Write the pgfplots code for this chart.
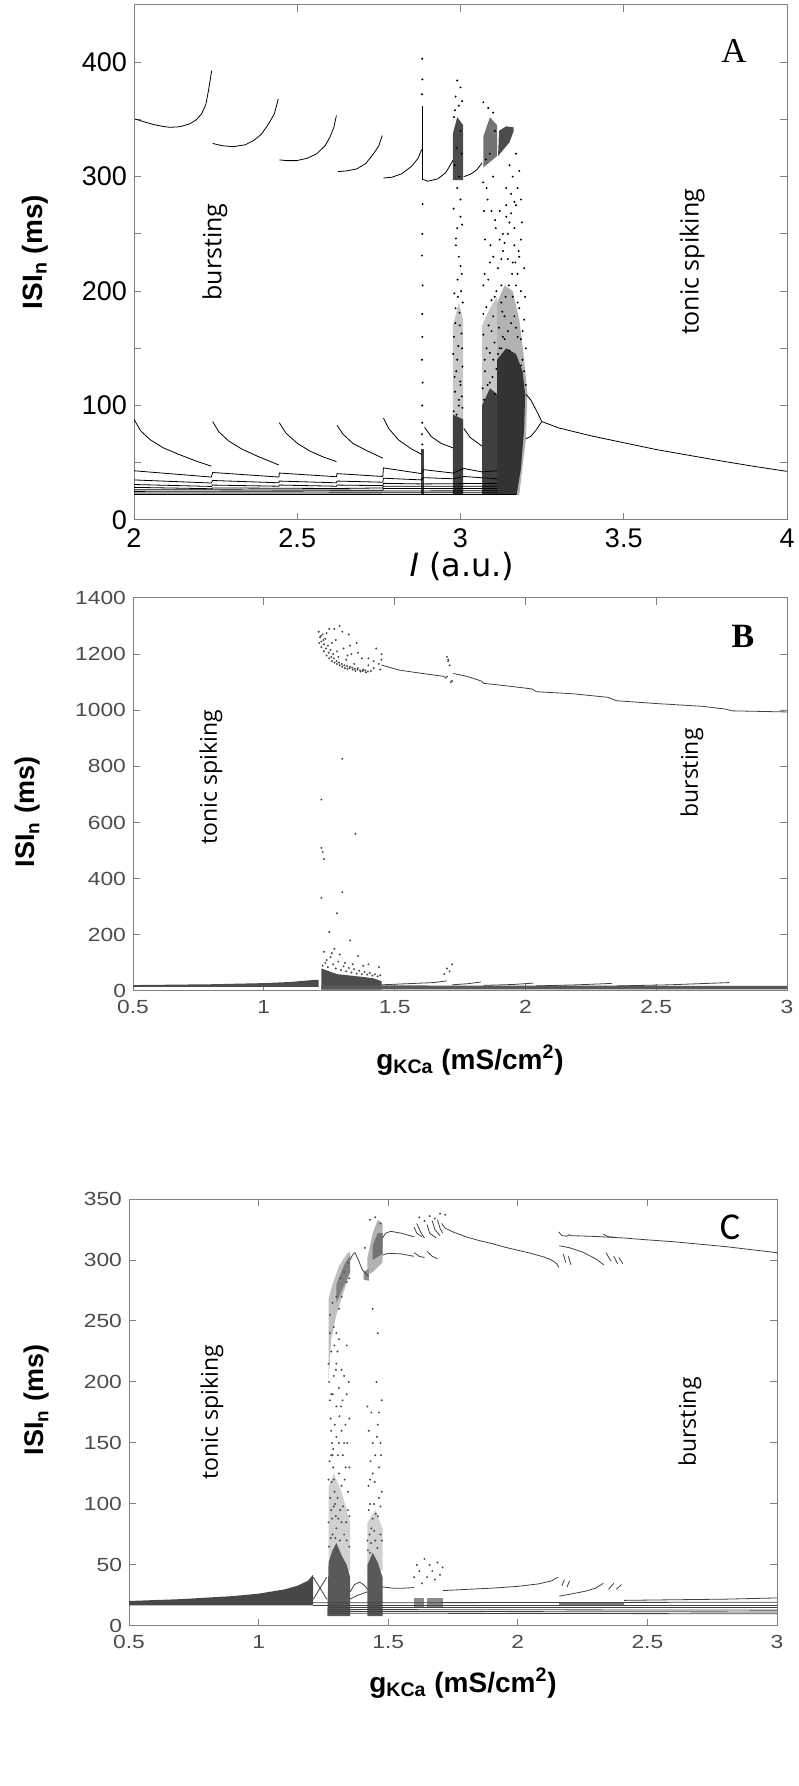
\documentclass[border=0pt]{standalone}
\usepackage{pgfplots}
\pgfplotsset{compat=1.18}
\usepackage{fontspec}
\setmainfont{Liberation Sans}
\newfontfamily\osfont{Open Sans}
\newfontfamily\dvfont{DejaVu Sans}
\newfontfamily\serfont{Liberation Serif}
\newfontfamily\calfont{Carlito}
\newfontfamily\tickfont[FakeStretch=1.2]{Liberation Sans}

\pgfplotsset{
  panel/.style={scale only axis, anchor=south west,
    axis line style={black!50, line width=0.5pt},
    tick style={black!50, line width=0.5pt},
    major tick length=3.5pt, minor tick length=3.5pt, tick align=inside,
    /pgf/number format/assume math mode=true,
    /pgf/number format/1000 sep={},
    xticklabel style={yshift=-1pt}},
  curve/.style={line width=0.4pt},
  dot/.style={only marks, mark=*, mark size=0.27pt},
  cloud/.style={fill=#1, draw=none},
}

\begin{document}
\begin{tikzpicture}[x=1pt,y=1pt]
\useasboundingbox (0,0) rectangle (399,893);

% ---------------- panel A ----------------
\begin{axis}[panel, at={(67pt,633pt)}, width=326.5pt, height=257.5pt,
  xmin=2, xmax=4, ymin=0, ymax=450,
  xtick={2,2.5,...,4}, ytick={0,100,...,400}, minor ytick={50,150,...,450},
  ticklabel style={font=\fontsize{13.5}{13.5}\selectfont, black}]
% medium density
\addplot[cloud=black!22] coordinates {(2.977,60) (3.008,60) (3.008,175) (2.995,190) (2.977,170)} -- cycle;
\addplot[cloud=black!22] coordinates {(3.066,60) (3.112,60) (3.112,195) (3.09,185) (3.066,170)} -- cycle;
\addplot[cloud=black!30] coordinates {(3.112,22) (3.18,22) (3.2,70) (3.205,110) (3.195,140) (3.18,175) (3.16,200) (3.135,205) (3.112,190)} -- cycle;
% dense
\addplot[cloud=black!80] coordinates {(3.112,22) (3.172,22) (3.185,45) (3.195,80) (3.198,110) (3.19,130) (3.17,145) (3.14,150) (3.112,140)} -- cycle;
\addplot[cloud=black!75] coordinates {(3.066,22) (3.112,22) (3.112,110) (3.09,115) (3.066,100)} -- cycle;
\addplot[cloud=black!75] coordinates {(2.977,22) (3.008,22) (3.008,88) (2.977,92)} -- cycle;
\addplot[cloud=black!75] coordinates {(2.880,22) (2.887,22) (2.887,62) (2.880,62)} -- cycle;
\addplot[cloud=black!70] coordinates {(2.977,297) (3.008,297) (3.008,345) (2.99,352) (2.977,338)} -- cycle;
\addplot[cloud=black!55] coordinates {(3.07,308) (3.112,318) (3.112,345) (3.09,352) (3.07,335)} -- cycle;
\addplot[cloud=black!70] coordinates {(3.115,318) (3.15,330) (3.163,340) (3.163,343) (3.14,344) (3.118,340)} -- cycle;
\addplot[black, line width=0.8pt] coordinates {(2.883,297) (2.883,362)};
% long-ISI branch
\addplot[curve] coordinates {(2.003,350.4) (2.03,348) (2.06,345.5) (2.09,343.8) (2.11,343.1) (2.14,343.6) (2.17,346) (2.19,349.5) (2.207,354.8) (2.22,363) (2.228,375) (2.238,392.7)};
\addplot[curve] coordinates {(2.241,329) (2.27,327) (2.304,326.2) (2.34,327.8) (2.366,331.5) (2.39,337) (2.412,346) (2.43,355) (2.442,368)};
\addplot[curve] coordinates {(2.445,314.6) (2.47,314) (2.498,314) (2.53,316) (2.56,320) (2.585,327) (2.60,334.4) (2.612,343) (2.62,353.4)};
\addplot[curve] coordinates {(2.625,304.4) (2.65,305) (2.682,306.7) (2.71,311.5) (2.733,319.8) (2.75,327) (2.76,335.9)};
\addplot[curve] coordinates {(2.764,298.8) (2.79,299.5) (2.82,302.5) (2.85,309) (2.87,316) (2.881,323.7)};
\addplot[curve] coordinates {(2.886,297.5) (2.90,296) (2.93,298) (2.955,303.5) (2.977,314.2)};
\addplot[curve] coordinates {(3.01,300) (3.03,302) (3.05,306) (3.066,312)};
% short-ISI branches
\addplot[curve] coordinates {(2.0,88) (2.02,78) (2.05,70) (2.09,63) (2.14,57) (2.19,51.5) (2.237,47)};
\addplot[curve] coordinates {(2.241,86) (2.26,77) (2.29,69) (2.33,62) (2.38,55.5) (2.444,48)};
\addplot[curve] coordinates {(2.445,85) (2.465,76) (2.5,67) (2.54,60) (2.58,55) (2.62,51)};
\addplot[curve] coordinates {(2.622,82.7) (2.64,75) (2.67,67) (2.71,61) (2.762,54)};
\addplot[curve] coordinates {(2.764,89) (2.78,80) (2.81,70) (2.85,62) (2.881,57.3)};
\addplot[curve] coordinates {(2.89,81) (2.91,73) (2.94,67) (2.977,63)};
\addplot[curve] coordinates {(3.01,80) (3.03,72) (3.066,64.5)};
\addplot[curve] coordinates {(2.0,43) (2.237,37.5) (2.241,41.5) (2.444,37.5) (2.445,41) (2.62,37.8) (2.622,40.5) (2.762,38) (2.764,45.5) (2.881,40.5) (2.886,44) (2.977,41) (3.01,45) (3.066,42) (3.112,43)};
\addplot[curve] coordinates {(2.0,35) (2.237,32.3) (2.241,34.5) (2.444,32.5) (2.445,34) (2.62,32.5) (2.622,34) (2.762,33) (2.764,36.5) (2.881,35) (2.886,37) (2.977,36) (3.01,38) (3.112,36)};
\addplot[curve] coordinates {(2.0,31) (2.237,29.3) (2.241,30.5) (2.444,29.5) (2.445,30.5) (2.62,29.5) (2.622,30.5) (2.762,30) (2.764,32) (2.881,31.5) (3.112,32)};
\addplot[curve] coordinates {(2.0,28.5) (2.237,27.3) (2.241,28) (2.62,27.5) (2.762,28) (2.764,29.5) (3.112,29.5)};
\addplot[curve] coordinates {(2.0,26.5) (2.762,26) (2.764,27.5) (3.112,27.5)};
\addplot[curve] coordinates {(2.0,25) (3.112,25.5)};
\addplot[curve] coordinates {(2.0,23.5) (3.112,23.8)};
\addplot[curve] coordinates {(2.0,22.3) (3.17,22.3)};
% period doubling and tonic spiking
\addplot[curve] coordinates {(3.2,110) (3.215,105) (3.23,97) (3.249,86)};
\addplot[curve] coordinates {(3.2,71) (3.215,73) (3.23,78) (3.249,86)};
\addplot[curve] coordinates {(3.249,86) (3.3,80.5) (3.4,73.5) (3.5,67.5) (3.6,61.5) (3.7,56.5) (3.8,51.5) (3.9,46.8) (4.0,42.5)};
% sparse points
\addplot[dot, black] coordinates {
(2.883,403) (2.883,385) (2.882,372) (2.884,276) (2.883,250) (2.882,231) (2.884,205) (2.883,180) (2.883,160) (2.882,140) (2.884,120) (2.883,100) (2.883,85) (2.882,75) (2.883,66)
(2.985,370) (2.995,362) (3.0,378) (2.99,384) (3.005,366) (2.98,352) (3.0,280) (2.99,255) (2.995,230) (3.002,200) (2.985,185) (2.998,170) (3.005,150) (2.99,140) (2.982,125) (3.0,118) (2.995,105) (3.006,98) (2.988,92)
(2.98,160) (2.992,195) (3.004,215) (2.986,240) (3.0,265) (2.99,290) (2.982,310) (3.004,320)
(2.979,95) (2.995,100) (3.004,108) (2.983,112) (2.999,121) (2.987,130) (3.006,134) (2.978,145) (2.993,152) (3.003,163) (2.984,172) (2.997,181) (3.007,190) (2.981,198) (2.991,210) (3.0,222) (2.986,246) (3.005,258) (2.979,272) (2.996,300) (2.988,325) (3.0,340) (2.983,358)
(3.07,365) (3.085,360) (3.1,356) (3.08,290) (3.095,270) (3.075,245) (3.1,230) (3.085,210) (3.105,195) (3.07,180) (3.095,165) (3.08,150) (3.1,140) (3.075,130) (3.09,120) (3.105,110) (3.072,105)
(3.07,205) (3.09,225) (3.108,255) (3.072,270) (3.1,300) (3.078,315)
(3.068,115) (3.083,118) (3.098,125) (3.11,132) (3.074,140) (3.09,146) (3.104,155) (3.07,162) (3.086,170) (3.1,178) (3.079,186) (3.095,192) (3.11,200) (3.074,215) (3.092,240) (3.106,262) (3.083,280) (3.069,295) (3.09,320) (3.105,340)
(3.16,300) (3.14,290) (3.17,275) (3.15,260) (3.13,250) (3.165,240) (3.145,228) (3.175,215) (3.125,205) (3.16,195) (3.18,185) (3.135,178) (3.17,168) (3.185,158) (3.15,148) (3.19,140) (3.13,235) (3.155,285) (3.17,320) (3.18,305)
(3.195,130) (3.2,118) (3.185,135) (3.175,160) (3.125,190) (3.13,160) (3.12,150) (3.12,270) (3.14,265) (3.185,245) (3.195,220) (3.15,310) (3.165,255) (3.18,230)
(3.115,145) (3.125,150) (3.135,158) (3.145,165) (3.155,172) (3.165,178) (3.175,190) (3.185,200) (3.195,175) (3.19,165) (3.118,168) (3.128,182) (3.138,195) (3.148,205) (3.158,215) (3.168,225) (3.178,235) (3.188,260) (3.115,220) (3.125,228) (3.135,242) (3.145,250) (3.155,268) (3.165,278) (3.175,290) (3.185,280) (3.12,245) (3.14,275) (3.16,225) (3.17,205) (3.2,150) (3.198,195)};
\end{axis}
\node[rotate=90, font=\fontsize{14}{14}\selectfont\bfseries] at (17.5,767) {ISI\textsubscript{n} (ms)};
\node[font=\fontsize{16}{16}\selectfont\dvfont] at (231,610) {\textit{I} (a.u.)};
\node[font=\fontsize{17.5}{17.5}\selectfont\serfont] at (367,867.5) {A};
\node[rotate=90, font=\fontsize{12.5}{12.5}\selectfont\osfont] at (107.5,767) {bursting};
\node[rotate=90, font=\fontsize{12.5}{12.5}\selectfont\osfont] at (346,762) {tonic spiking};

% ---------------- panel B ----------------
\begin{axis}[panel, at={(66.5pt,397.5pt)}, width=327pt, height=196.5pt,
  xmin=0.5, xmax=3, ymin=0, ymax=1400,
  xtick={0.5,1,...,3}, ytick={0,200,...,1400},
  ticklabel style={font=\fontsize{9.5}{9.5}\selectfont\tickfont, black!70}]
\addplot[cloud=black!70] coordinates {(0.5,15) (0.5,21) (0.8,24) (1.0,28) (1.1,32) (1.2,40) (1.21,38) (1.21,15)} -- cycle;
\addplot[cloud=black!70] coordinates {(1.22,5) (1.45,5) (1.45,35) (1.42,45) (1.38,50) (1.33,55) (1.28,60) (1.25,70) (1.22,80)} -- cycle;
\addplot[cloud=black!65] coordinates {(1.22,6) (3.0,6) (3.0,18) (1.22,20)} -- cycle;
\addplot[curve, black!75] coordinates {(1.45,1161) (1.518,1143) (1.615,1130) (1.687,1121) (1.698,1113)};
\addplot[curve, black!75] coordinates {(1.724,1131) (1.776,1121) (1.832,1104) (1.84,1096) (1.937,1086) (2.025,1076) (2.042,1066) (2.179,1059) (2.316,1046) (2.348,1034) (2.5,1024) (2.678,1014) (2.766,1004) (2.79,998) (3.0,994)};
\addplot[curve, black!75] coordinates {(1.45,22) (1.55,26) (1.65,30) (1.70,36)};
\addplot[curve, black!75] coordinates {(1.72,22) (1.78,26) (1.83,32)};
\addplot[curve, black!75] coordinates {(1.84,20) (1.95,23) (2.03,28)};
\addplot[curve, black!75] coordinates {(2.04,18) (2.2,22) (2.33,27)};
\addplot[curve, black!75] coordinates {(2.35,18) (2.55,22) (2.78,30)};
\addplot[dot, black!70] coordinates {
(1.21,1280) (1.215,1260) (1.22,1245) (1.22,1225) (1.225,1270) (1.23,1235) (1.23,1210) (1.235,1255) (1.24,1195) (1.245,1230) (1.25,1185) (1.25,1290) (1.255,1215) (1.26,1175) (1.265,1200) (1.27,1170) (1.275,1250) (1.28,1165) (1.285,1190) (1.29,1160) (1.29,1300) (1.30,1155) (1.305,1220) (1.31,1150) (1.315,1180) (1.32,1148) (1.325,1270) (1.33,1155) (1.335,1200) (1.34,1145) (1.345,1165) (1.35,1140) (1.355,1240) (1.36,1150) (1.37,1138) (1.375,1185) (1.38,1145) (1.39,1135) (1.40,1160) (1.41,1140) (1.42,1150) (1.43,1220) (1.44,1165) (1.445,1145) (1.45,1200) (1.45,1180) (1.27,1290) (1.30,1280) (1.33,1230)
(1.212,1240) (1.218,1265) (1.228,1250) (1.238,1220) (1.248,1205) (1.258,1190) (1.268,1185) (1.278,1175) (1.288,1170) (1.298,1165) (1.308,1160) (1.318,1158) (1.328,1150) (1.338,1152) (1.348,1148) (1.358,1145) (1.368,1142) (1.378,1140) (1.388,1142) (1.398,1138) (1.24,1275) (1.26,1240) (1.28,1210) (1.32,1195) (1.36,1205) (1.40,1185) (1.42,1175)
(1.70,1190) (1.705,1175) (1.71,1160) (1.715,1100) (1.72,1105) (1.70,1120) (1.705,1180)
(1.30,827) (1.22,682) (1.35,560) (1.22,510) (1.225,495) (1.23,470) (1.30,352) (1.22,332) (1.28,277) (1.25,210) (1.33,180) (1.27,150) (1.36,125) (1.24,110) (1.31,100) (1.40,95) (1.44,85) (1.26,135) (1.38,90) (1.70,80) (1.71,70) (1.69,60) (1.72,95)
(1.225,90) (1.235,100) (1.245,85) (1.255,120) (1.265,95) (1.275,80) (1.285,105) (1.295,75) (1.305,88) (1.315,70) (1.325,82) (1.335,66) (1.345,78) (1.355,62) (1.365,72) (1.375,60) (1.385,68) (1.395,58) (1.405,64) (1.415,55) (1.425,60) (1.435,52) (1.445,56) (1.23,140) (1.29,130) (1.34,95)};
\end{axis}
\node[rotate=90, font=\fontsize{13.5}{13.5}\selectfont\bfseries] at (14,487) {ISI\textsubscript{n} (ms)};
\node[font=\fontsize{14}{14}\selectfont\bfseries] at (235,363) {g\textsubscript{KCa} (mS/cm\textsuperscript{2})};
\node[font=\fontsize{17}{17}\selectfont\serfont\bfseries] at (371.5,575) {B};
\node[rotate=90, font=\fontsize{11.5}{11.5}\selectfont\osfont] at (105.5,504.5) {tonic spiking};
\node[rotate=90, font=\fontsize{11.5}{11.5}\selectfont\osfont] at (346,506.5) {bursting};

% ---------------- panel C ----------------
\begin{axis}[panel, at={(64.5pt,80pt)}, width=324pt, height=213.5pt,
  xmin=0.5, xmax=3, ymin=0, ymax=350,
  xtick={0.5,1,...,3}, ytick={0,50,...,350},
  ticklabel style={font=\fontsize{9.5}{9.5}\selectfont\tickfont, black!70}]
\addplot[cloud=black!72] coordinates {(0.5,17) (0.5,20.5) (0.7,22) (0.9,24.5) (1.0,26.5) (1.1,30) (1.15,33) (1.19,37) (1.21,42) (1.21,17)} -- cycle;
\addplot[cloud=black!18] coordinates {(1.27,50) (1.353,45) (1.353,85) (1.32,110) (1.29,125) (1.27,115)} -- cycle;
\addplot[cloud=black!18] coordinates {(1.42,50) (1.478,45) (1.478,80) (1.45,95) (1.42,85)} -- cycle;
\addplot[cloud=black!65] coordinates {(1.265,8) (1.353,8) (1.353,40) (1.34,50) (1.32,58) (1.30,68) (1.285,62) (1.27,52)} -- cycle;
\addplot[cloud=black!65] coordinates {(1.42,8) (1.478,8) (1.478,40) (1.46,52) (1.44,60) (1.42,50)} -- cycle;
\addplot[cloud=black!45] coordinates {(1.60,15) (1.64,15) (1.64,23) (1.60,23)} -- cycle;
\addplot[cloud=black!45] coordinates {(1.65,15) (1.71,15) (1.71,23) (1.65,23)} -- cycle;
\addplot[cloud=black!50] coordinates {(2.16,16) (2.41,16) (2.41,20) (2.16,20)} -- cycle;
\addplot[cloud=black!25] coordinates {(1.27,200) (1.28,235) (1.30,255) (1.33,275) (1.353,290) (1.353,307) (1.34,305) (1.31,295) (1.285,280) (1.27,268)} -- cycle;
\addplot[cloud=black!50] coordinates {(1.30,265) (1.353,290) (1.353,304) (1.33,296) (1.30,280)} -- cycle;
\addplot[cloud=black!30] coordinates {(1.42,288) (1.44,290) (1.478,298) (1.478,330) (1.46,333) (1.44,322) (1.42,302)} -- cycle;
\addplot[cloud=black!55] coordinates {(1.44,300) (1.478,305) (1.478,322) (1.46,322) (1.44,312)} -- cycle;
\addplot[cloud=black!45] coordinates {(1.405,284) (1.425,283) (1.425,293) (1.405,290)} -- cycle;
% lower lines
\addplot[curve, black!75] coordinates {(1.211,40) (1.263,22)};
\addplot[curve, black!75] coordinates {(1.211,22) (1.263,40)};
\addplot[curve, black!75] coordinates {(1.21,19) (3,19.5)};
\addplot[curve, black!75] coordinates {(1.21,17) (3,17)};
\addplot[curve, black!75] coordinates {(1.27,15) (3,15)};
\addplot[curve, black!75] coordinates {(1.27,13.5) (3,13)};
\addplot[curve, black!75] coordinates {(1.27,12) (3,11.5)};
\addplot[curve, black!75] coordinates {(1.27,10.5) (3,10)};
\addplot[curve, black!75] coordinates {(1.353,28) (1.37,34) (1.39,36) (1.41,33) (1.42,30)};
\addplot[curve, black!75] coordinates {(1.353,22) (1.38,25) (1.42,28)};
\addplot[curve, black!75] coordinates {(1.478,32) (1.52,31) (1.56,31) (1.6,31.5)};
\addplot[curve, black!75] coordinates {(1.71,29) (1.8,30) (1.9,31) (2.0,32.5) (2.08,34.5) (2.13,37) (2.155,40)};
\addplot[curve, black!75] coordinates {(2.16,24.5) (2.2,26) (2.26,28.5) (2.3,31) (2.33,35)};
\addplot[curve, black!75] coordinates {(2.17,33) (2.18,38)};
\addplot[curve, black!75] coordinates {(2.19,32) (2.2,37)};
\addplot[curve, black!75] coordinates {(2.35,30) (2.37,35)};
\addplot[curve, black!75] coordinates {(2.38,30) (2.4,34)};
\addplot[curve, black!75] coordinates {(2.41,21) (2.6,21.5) (2.8,22) (3.0,23)};
% upper lines
\addplot[curve, black!75] coordinates {(1.353,300) (1.362,304) (1.372,306) (1.385,300) (1.40,292) (1.424,286.5)};
\addplot[curve, black!75] coordinates {(1.478,318) (1.49,322) (1.51,323.5) (1.55,322) (1.6,319)};
\addplot[curve, black!75] coordinates {(1.478,304) (1.5,305.5) (1.55,305) (1.6,303)};
\addplot[curve, black!75] coordinates {(1.60,327) (1.61,322) (1.63,319)};
\addplot[curve, black!75] coordinates {(1.61,330) (1.625,323) (1.64,318)};
\addplot[curve, black!75] coordinates {(1.65,329) (1.66,322) (1.685,318)};
\addplot[curve, black!75] coordinates {(1.67,332) (1.68,325) (1.70,320)};
\addplot[curve, black!75] coordinates {(1.69,333) (1.70,326) (1.71,322)};
\addplot[curve, black!75] coordinates {(1.60,306) (1.62,303) (1.64,302)};
\addplot[curve, black!75] coordinates {(1.65,307) (1.67,303) (1.69,301)};
\addplot[curve, black!75] coordinates {(1.706,330) (1.72,326) (1.75,323) (1.8,319) (1.85,316) (1.9,313.5) (1.95,310.5) (2.0,308) (2.05,305.5) (2.1,302.5) (2.13,300) (2.15,297) (2.158,294)};
\addplot[curve, black!75] coordinates {(2.16,311.7) (2.2,310) (2.25,306.5) (2.3,301) (2.332,296)};
\addplot[curve, black!75] coordinates {(2.175,305) (2.185,298)};
\addplot[curve, black!75] coordinates {(2.195,303) (2.205,296)};
\addplot[curve, black!75] coordinates {(2.34,306) (2.36,299)};
\addplot[curve, black!75] coordinates {(2.37,303) (2.385,297)};
\addplot[curve, black!75] coordinates {(2.39,302) (2.405,297)};
\addplot[curve, black!75] coordinates {(2.158,323) (2.17,320) (2.19,319.5) (2.2,321)};
\addplot[curve, black!75] coordinates {(2.33,321) (2.35,319) (2.38,318.5)};
\addplot[curve, black!75] coordinates {(2.2,320) (2.3,319.3) (2.41,318) (2.5,316.5) (2.6,315) (2.7,313) (2.8,311) (2.9,308.5) (3.0,306)};
\addplot[dot, black!70] coordinates {
(1.27,215) (1.272,200) (1.275,185) (1.278,170) (1.28,160) (1.283,150) (1.285,140) (1.288,130) (1.29,120) (1.293,110) (1.295,100) (1.298,90) (1.30,80) (1.305,105) (1.31,125) (1.315,95) (1.32,85) (1.325,140) (1.33,75) (1.335,165) (1.34,70) (1.345,110) (1.35,90) (1.35,130) (1.28,225) (1.29,205) (1.30,180) (1.31,195) (1.32,160) (1.275,240) (1.30,240) (1.34,230) (1.28,95) (1.27,120) (1.285,75) (1.27,85)
(1.275,255) (1.285,265) (1.29,245) (1.30,270) (1.31,260) (1.315,285) (1.32,270) (1.33,290) (1.34,282) (1.345,298) (1.35,285) (1.28,190) (1.30,215) (1.32,210) (1.34,190) (1.35,170) (1.33,205) (1.31,150)
(1.272,65) (1.278,72) (1.284,88) (1.29,98) (1.296,72) (1.302,62) (1.308,88) (1.314,70) (1.32,115) (1.326,98) (1.332,120) (1.338,85) (1.344,95) (1.35,65) (1.276,105) (1.282,118) (1.288,145) (1.294,165) (1.30,155) (1.306,140) (1.312,172) (1.318,180) (1.324,185) (1.33,150) (1.336,130) (1.342,150) (1.348,200) (1.274,135) (1.28,140) (1.286,190) (1.292,230) (1.298,210) (1.304,225) (1.31,235)
(1.42,70) (1.425,95) (1.43,60) (1.43,120) (1.435,80) (1.44,150) (1.445,100) (1.45,70) (1.455,200) (1.46,90) (1.465,130) (1.47,75) (1.475,110) (1.42,180) (1.44,260) (1.46,240) (1.43,333) (1.45,335) (1.47,330) (1.41,310)
(1.425,160) (1.435,175) (1.45,140) (1.46,165) (1.47,150) (1.475,185)
(1.422,62) (1.428,75) (1.434,68) (1.44,88) (1.446,78) (1.452,92) (1.458,64) (1.464,105) (1.47,98) (1.476,70) (1.424,115) (1.432,135) (1.44,125) (1.448,118) (1.456,155) (1.464,175) (1.472,140) (1.43,100)
(1.60,40) (1.61,50) (1.62,45) (1.63,35) (1.64,55) (1.65,40) (1.66,50) (1.67,45) (1.68,38) (1.69,52) (1.70,42) (1.71,48) (1.62,335) (1.64,332) (1.66,336) (1.68,334) (1.70,338) (1.72,337)};
\end{axis}
\node[rotate=90, font=\fontsize{13.5}{13.5}\selectfont\bfseries] at (18.5,193) {ISI\textsubscript{n} (ms)};
\node[font=\fontsize{14}{14}\selectfont\bfseries] at (231.5,51.5) {g\textsubscript{KCa} (mS/cm\textsuperscript{2})};
\node[font=\fontsize{19}{19}\selectfont\calfont] at (365,279.5) {C};
\node[rotate=90, font=\fontsize{11.5}{11.5}\selectfont\osfont] at (106,187) {tonic spiking};
\node[rotate=90, font=\fontsize{11.5}{11.5}\selectfont\osfont] at (345,182) {bursting};
\end{tikzpicture}
\end{document}
